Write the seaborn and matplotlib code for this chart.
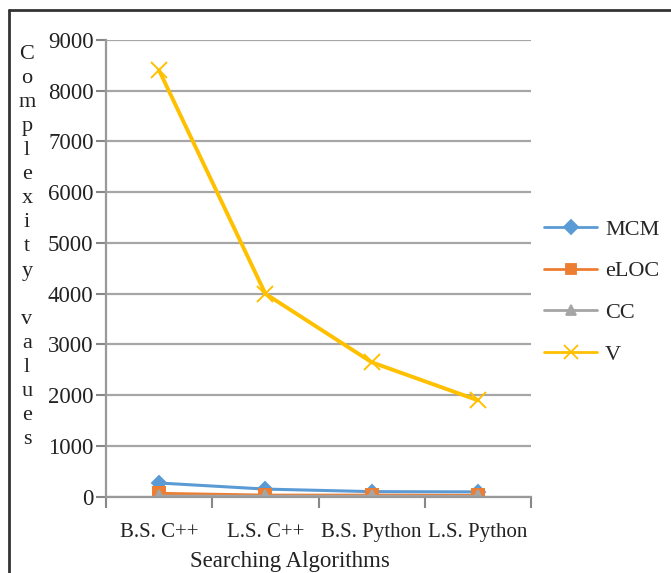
import matplotlib
matplotlib.use("Agg")
import matplotlib.pyplot as plt
import seaborn as sns
import pandas as pd
from matplotlib.lines import Line2D

categories = ["B.S. C++", "L.S. C++", "B.S. Python", "L.S. Python"]
mcm = [270, 150, 100, 95]
eloc = [65, 30, 30, 25]
cc = [10, 8, 8, 6]
v = [8400, 4000, 2650, 1900]
series_names = ["MCM", "eLOC", "CC", "V"]
yticks = [0, 1000, 2000, 3000, 4000, 5000, 6000, 7000, 8000, 9000]

colors = {"MCM": "#5B9BD5", "eLOC": "#ED7D31", "CC": "#A5A5A5", "V": "#FFC000"}
markers = {"MCM": "D", "eLOC": "s", "CC": "^", "V": "x"}
msizes = {"MCM": 7, "eLOC": 9, "CC": 8, "V": 12}
lwidths = {"MCM": 2.2, "eLOC": 2.2, "CC": 2.2, "V": 2.8}

rows = []
for name, vals in zip(series_names, [mcm, eloc, cc, v]):
    for i, (c, val) in enumerate(zip(categories, vals)):
        rows.append({"Algorithm": c, "pos": i, "Series": name, "Value": val})
df = pd.DataFrame(rows)

sns.set_theme(style="white")
plt.rcParams["font.family"] = ["Liberation Serif", "DejaVu Serif"]

fig = plt.figure(figsize=(6.71, 5.73), dpi=100)
ax = fig.add_axes([106 / 671, 1 - 496.7 / 573, (531 - 106) / 671, (496.7 - 40) / 573])

for name in series_names:
    sub = df[df["Series"] == name]
    sns.lineplot(data=sub, x="pos", y="Value", color=colors[name], marker=markers[name],
                 markersize=msizes[name], markeredgecolor=colors[name], markeredgewidth=1.4,
                 linewidth=lwidths[name], ax=ax, legend=False)

ax.set_xlim(-0.5, 3.5)
ax.set_ylim(0, 9000)
ax.set_yticks(yticks)
ax.set_yticklabels([str(t) for t in yticks], fontsize=16.5, color="#222222")
ax.set_xticks(range(len(categories)))
ax.set_xticklabels(categories, fontsize=15, color="#222222")
ax.set_xticks([-0.5, 0.5, 1.5, 2.5, 3.5], minor=True)
ax.tick_params(axis="x", which="major", length=0, pad=19)
ax.tick_params(axis="x", which="minor", length=8, width=1.5, color="#888888", direction="out", bottom=True)
ax.tick_params(axis="y", length=7, width=1.5, color="#888888", direction="out", pad=2, left=True)
ax.grid(axis="y", color="#A6A6A6", linewidth=1.6)
ax.set_axisbelow(True)
for s in ["top", "right"]:
    ax.spines[s].set_visible(False)
for s in ["left", "bottom"]:
    ax.spines[s].set_color("#999999")
    ax.spines[s].set_linewidth(1.6)
ax.set_xlabel("")
ax.set_ylabel("")

fig.text(290 / 671, 1 - 562 / 573, "Searching Algorithms", fontsize=16.5,
         ha="center", va="center", color="#222222")
ylabel_chars = list("Complexity") + [""] + list("values")
fig.text(27 / 671, 1 - 247 / 573, "\n".join(ylabel_chars), fontsize=16,
         ha="center", va="center", color="#222222", linespacing=1.36)

handles = [Line2D([0], [0], color=colors[n], marker=markers[n], linewidth=2,
                  markersize=(7 if n != "V" else 10), markeredgecolor=colors[n],
                  markeredgewidth=1.3) for n in series_names]
fig.legend(handles, series_names, loc="center left",
           bbox_to_anchor=(544 / 671, 1 - 292 / 573), frameon=False,
           fontsize=16, handlelength=2.4, labelspacing=0.95, handletextpad=0.35,
           borderpad=0, borderaxespad=0)

fig.add_artist(Line2D([9 / 671, 9 / 671], [0, 1 - 10 / 573], color="#333333", linewidth=2,
                      transform=fig.transFigure))
fig.add_artist(Line2D([9 / 671, 1], [1 - 10 / 573, 1 - 10 / 573], color="#333333", linewidth=2,
                      transform=fig.transFigure))

fig.savefig("out.png", dpi=100)
